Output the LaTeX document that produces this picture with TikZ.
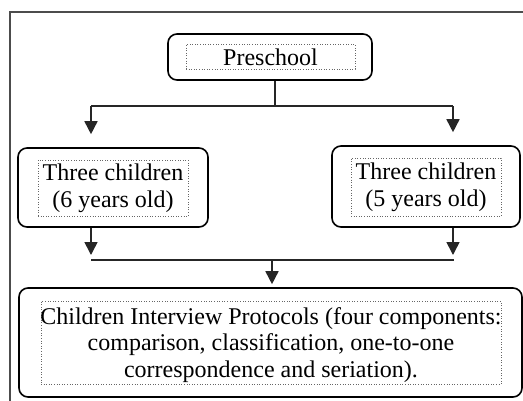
\documentclass[tikz,border=0pt]{standalone}
\usepackage{fontspec}
\setmainfont{Liberation Serif}
\usetikzlibrary{arrows.meta}
\begin{document}
\begin{tikzpicture}[x=1pt,y=-1pt,
  outerbox/.style={draw=black,line width=1.6pt,rounded corners=9pt,minimum width=#1,inner sep=0pt},
  innerbox/.style={draw=gray!80!black,dotted,line width=0.6pt,inner sep=0pt},
  label/.style={inner sep=0pt,align=center,font=\fontsize{24}{27}\selectfont},
  conn/.style={line width=1.6pt,draw=black!85},
  arr/.style={conn,-{Triangle[width=13pt,length=13pt]}}]
\useasboundingbox (0,0) rectangle (523,400);
\draw[line width=1.5pt,black!70] (10,402) -- (10,12) -- (525,12);
% boxes
\node[outerbox=204pt,minimum height=46pt] (pre) at (270,57) {};
\node[innerbox,minimum width=169pt,minimum height=25pt] (pref) at (270.5,56.5) {};
\node[label] (pret) at (270.5,57) {Preschool};
\node[outerbox=190pt,minimum height=79pt] (left) at (113,187.5) {};
\node[innerbox,minimum width=150pt,minimum height=56pt] (leftf) at (113,188) {};
\node[label] (leftt) at (113,188) {Three children\\(6 years old)};
\node[outerbox=188pt,minimum height=81pt] (right) at (426,186.5) {};
\node[innerbox,minimum width=150pt,minimum height=58pt] (rightf) at (426,187) {};
\node[label] (rightt) at (426,187) {Three children\\(5 years old)};
\node[outerbox=503pt,minimum height=109pt] (bot) at (270.5,342.5) {};
\node[innerbox,minimum width=460pt,minimum height=83pt] (botf) at (271,342.5) {};
\node[label,font=\fontsize{24}{26.5}\selectfont] (bott) at (271,345) {Children Interview Protocols (four components:\\comparison, classification, one-to-one\\correspondence and seriation).};
% connectors
\coordinate (j1) at (275,106);
\coordinate (jl) at (91,106);
\coordinate (jr) at (453,106);
\draw[conn] (pre.south -| j1) -- (j1);
\draw[conn] (jl) -- (jr);
\draw[arr] (jl) -- ([yshift=13pt]left.north -| jl);
\draw[arr] (jr) -- ([yshift=13pt]right.north -| jr);
\coordinate (kl) at (91,260);
\coordinate (kr) at (454,260);
\coordinate (k1) at (272,260);
\draw[arr] (left.south -| kl) -- ([yshift=5pt]kl);
\draw[arr] (right.south -| jr) -- ([yshift=5pt]kl -| jr);
\draw[conn] (kl) -- (kr);
\draw[arr] (k1) -- ([yshift=3pt]bot.north -| k1);
\end{tikzpicture}
\end{document}
